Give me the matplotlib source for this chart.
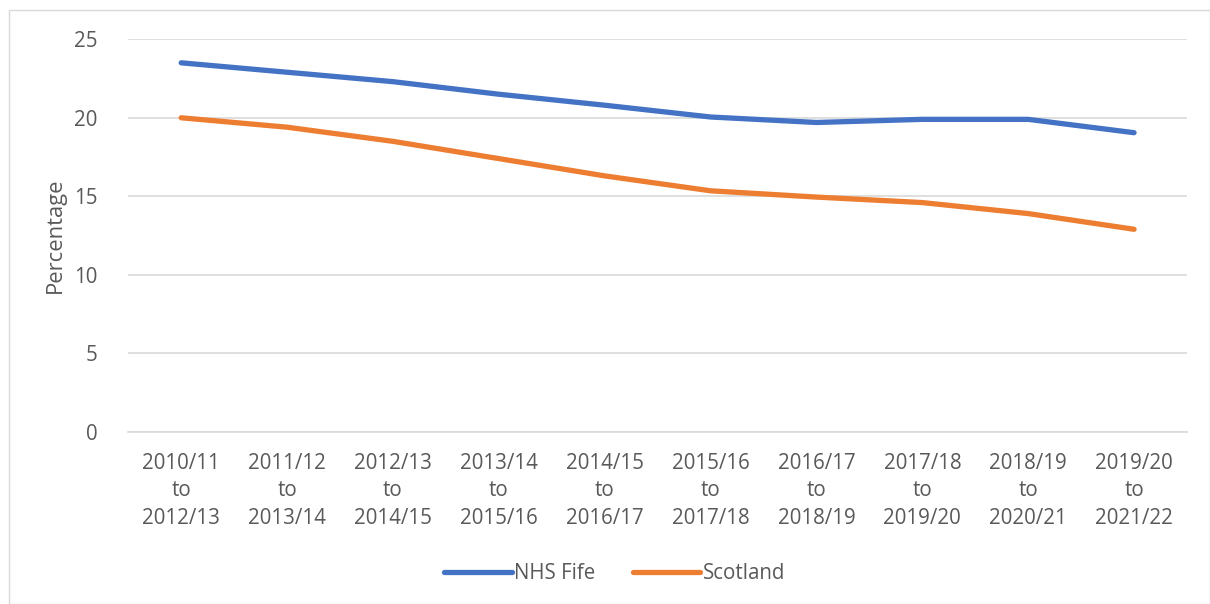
import matplotlib
matplotlib.use("Agg")
import matplotlib.pyplot as plt
from matplotlib.patches import Rectangle

plt.rcParams['font.family'] = ['Open Sans', 'DejaVu Sans']

periods = ["2010/11\nto\n2012/13", "2011/12\nto\n2013/14", "2012/13\nto\n2014/15",
           "2013/14\nto\n2015/16", "2014/15\nto\n2016/17", "2015/16\nto\n2017/18",
           "2016/17\nto\n2018/19", "2017/18\nto\n2019/20", "2018/19\nto\n2020/21",
           "2019/20\nto\n2021/22"]
fife = [23.5, 22.9, 22.3, 21.5, 20.8, 20.05, 19.7, 19.9, 19.9, 19.05]
scotland = [20.0, 19.4, 18.5, 17.4, 16.3, 15.35, 14.95, 14.6, 13.9, 12.9]

text_col = "#595959"
fs = 14.8

fig = plt.figure(figsize=(12.1, 6.04), dpi=100)
# light chart-area frame
fig.patches.append(Rectangle((9 / 1210, 0), 1 - 9 / 1210, 1 - 10 / 604, transform=fig.transFigure,
                             fill=False, edgecolor="#D9D9D9", linewidth=1))

ax = fig.add_axes([0.106, 0.285, 0.875, 0.65])
x = range(len(periods))
ax.plot(x, fife, color="#4472C4", linewidth=3.8, solid_capstyle="round", label="NHS Fife")
ax.plot(x, scotland, color="#ED7D31", linewidth=3.8, solid_capstyle="round", label="Scotland")

ax.set_xlim(-0.5, len(periods) - 0.5)
ax.set_ylim(0, 25)
ax.set_yticks(range(0, 26, 5))
ax.set_xticks(list(x))
ax.set_xticklabels(periods, fontsize=fs, color=text_col, linespacing=1.42)
ax.tick_params(axis="y", labelsize=fs, labelcolor=text_col, length=0, pad=22)
ax.tick_params(axis="x", length=0, pad=15)
ax.grid(axis="y", color="#D9D9D9", linewidth=1.2)
ax.set_axisbelow(True)
for s in ax.spines.values():
    s.set_visible(False)
ax.spines["bottom"].set_visible(True)
ax.spines["bottom"].set_color("#D9D9D9")
ax.spines["bottom"].set_linewidth(1.2)
ax.set_ylabel("Percentage", fontsize=fs + 1, color=text_col, labelpad=6)

leg = fig.legend(loc="center", bbox_to_anchor=(0.508, 0.05), ncol=2, frameon=False,
                 fontsize=fs, handlelength=3.3, handletextpad=0.1, columnspacing=1.8)
for t in leg.get_texts():
    t.set_color(text_col)

fig.savefig("out.png", dpi=100)
